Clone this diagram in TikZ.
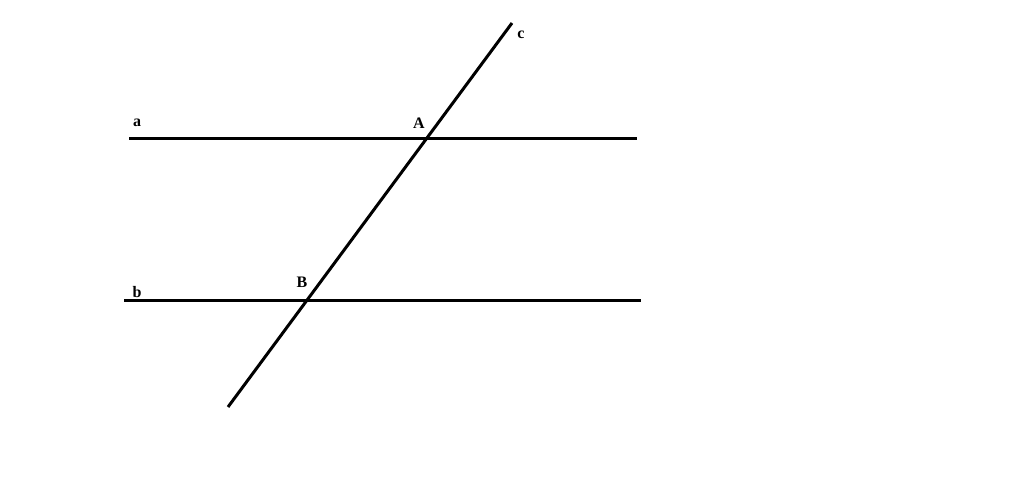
\documentclass[tikz,border=0pt]{standalone}
\usepackage{fontspec}
\setmainfont{Liberation Serif}
\begin{document}
\begin{tikzpicture}[x=1pt,y=-1pt,
  ln/.style={line width=3pt},
  lbl/.style={font=\bfseries\fontsize{16}{18}\selectfont, inner sep=0pt}]
\useasboundingbox[fill=white] (0,0) rectangle (1024,480);
\coordinate (a1) at (129,138);
\coordinate (a2) at (637,138);
\coordinate (b1) at (124,300);
\coordinate (b2) at (641,300);
\coordinate (c1) at (228,407);
\coordinate (c2) at (512,23);
\draw[ln] (a1) -- (a2);
\draw[ln] (b1) -- (b2);
\draw[ln] (c1) -- (c2);
\node[lbl] (la) at (137,123) {a};
\node[lbl] (lA) at (419,123) {A};
\node[lbl] (lB) at (302,282) {B};
\node[lbl] (lb) at (137,292) {b};
\node[lbl] (lc) at (521,35) {c};
\end{tikzpicture}
\end{document}
